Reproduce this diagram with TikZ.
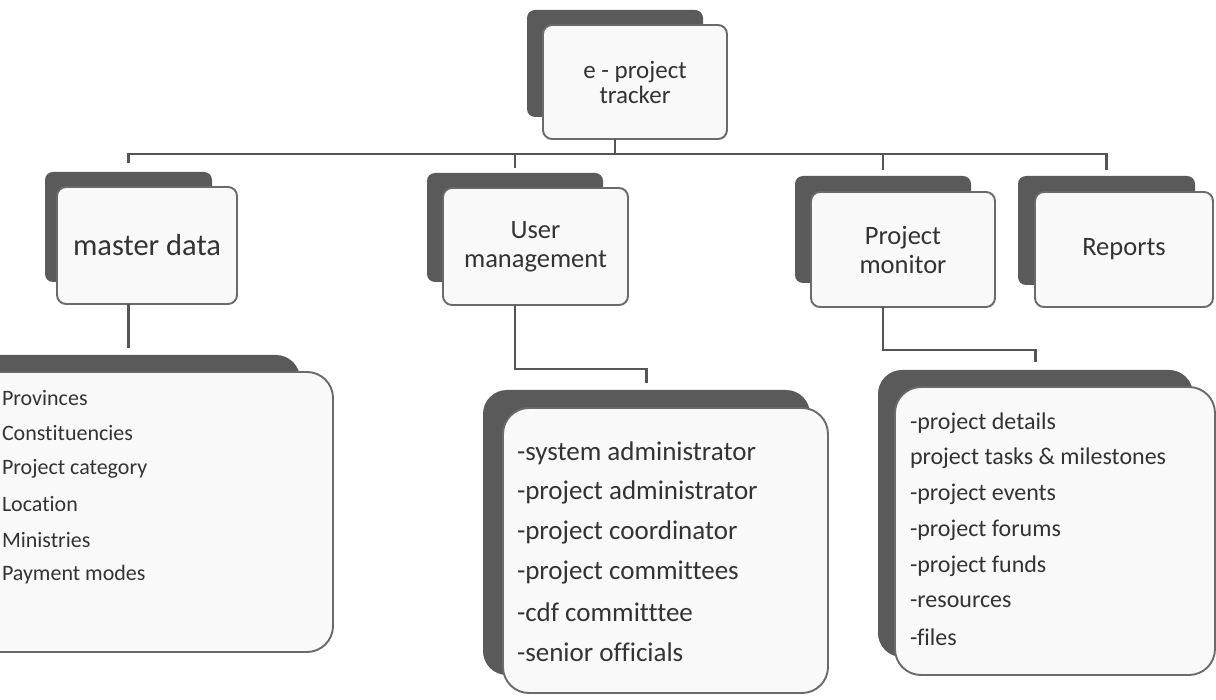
\documentclass[tikz,border=0pt]{standalone}
\usepackage{fontspec}
\setmainfont{Carlito}[Ligatures=NoCommon]
\usetikzlibrary{calc}
\definecolor{shade}{HTML}{5A5A5A}
\definecolor{edge}{HTML}{6A6A6A}
\definecolor{paper}{HTML}{F9F9F9}
\definecolor{ink}{HTML}{333333}
\definecolor{wire}{HTML}{555555}
\tikzset{
  backbox/.style 2 args={fill=shade, draw=none, rounded corners=8pt, outer sep=0pt,
    inner sep=0pt, minimum width=#1pt, minimum height=#2pt},
  frontbox/.style 2 args={fill=paper, draw=edge, line width=1.9pt, rounded corners=9pt,
    outer sep=0pt, inner sep=0pt, minimum width=#1pt, minimum height=#2pt,
    text=ink, align=center},
  conn/.style={draw=wire, line width=2.5pt},
  listtext/.style={text=ink, anchor=west, inner sep=0pt, outer sep=0pt},
  toplabel/.style={font=\fontsize{26.5}{29}\selectfont}
}
\begin{document}
\begin{tikzpicture}[x=1pt,y=-1pt]
\useasboundingbox (0,0) rectangle (1216,700);
\clip (0,0) rectangle (1216,700);
\fill[white] (0,0) rectangle (1216,700);

% ---------- top node ----------
\node[backbox={176}{107}] (topsh) at (615,63.5) {};
\node[frontbox={184}{114}, font=\fontsize{25}{25}\selectfont] (top) at (635,82) {e - project\\tracker};

% ---------- second level ----------
\node[backbox={167}{110}] (mdsh) at (128.5,227) {};
\node[frontbox={180}{117}, font=\fontsize{30.5}{32}\selectfont] (md) at (147,245.5) {master data};

\node[backbox={176}{109}] (umsh) at (515,227.5) {};
\node[frontbox={185}{117}, toplabel] (um) at (535.5,246.5) {User\\management};

\node[backbox={176}{107}] (pmsh) at (883,229.5) {};
\node[frontbox={184}{115}, toplabel] (pm) at (903,249.5) {Project\\monitor};

\node[backbox={177}{109}] (rpsh) at (1106.5,230.5) {};
\node[frontbox={178}{115}, toplabel] (rp) at (1124,249.5) {Reports};

% ---------- third level ----------
\node[backbox={350}{280}, rounded corners=24pt] (mdlsh) at (125,495) {};
\node[frontbox={373}{280}, rounded corners=26pt] (mdl) at (146.5,512) {};

\node[backbox={327}{285}, rounded corners=24pt] (umlsh) at (646.5,532.5) {};
\node[frontbox={325}{285}, rounded corners=26pt] (uml) at (665.5,550.5) {};

\node[backbox={315}{287}, rounded corners=24pt] (pmlsh) at (1035.5,513.5) {};
\node[frontbox={320}{288}, rounded corners=26pt] (pml) at (1055,531) {};

% ---------- lists ----------
\foreach \t [count=\i] in {Provinces, Constituencies, Project category, Location, Ministries, Payment modes}
  \node[listtext, font=\fontsize{22}{24}\selectfont] (ml\i) at (2,{398+35.4*(\i-1)}) {\t};

\foreach \t [count=\i] in {-system administrator, -project administrator, -project coordinator,
    -project committees, -cdf committtee, -senior officials}
  \node[listtext, font=\fontsize{27}{30}\selectfont] (ul\i) at (517,{453+39.8*(\i-1)}) {\t};

\foreach \t [count=\i] in {-project details, project tasks \& milestones, -project events,
    -project forums, -project funds, -resources, -files}
  \node[listtext, font=\fontsize{24}{27}\selectfont] (pl\i) at (910,{423+35.7*(\i-1)}) {\t};

% ---------- connectors ----------
\coordinate (bus) at (0,154);
\draw[conn] (top.south -| topsh) -- (topsh |- bus);
\draw[conn] ([yshift=9pt]mdsh.north) -- (mdsh |- bus) -- (rpsh |- bus) -- ([yshift=6pt]rpsh.north);
\draw[conn] ([yshift=5pt]umsh.north) -- (umsh |- bus);
\draw[conn] ([yshift=6pt]pmsh.north) -- (pmsh |- bus);

\draw[conn] (md.south -| mdsh) -- ([yshift=7pt]mdsh |- mdlsh.north);
\draw[conn] (um.south -| umsh) |- ([yshift=21pt]umlsh.north) -- ([yshift=7pt]umlsh.north);
\draw[conn] (pm.south -| pmsh) |- ([yshift=20pt]pmlsh.north) -- ([yshift=8pt]pmlsh.north);
\end{tikzpicture}
\end{document}
